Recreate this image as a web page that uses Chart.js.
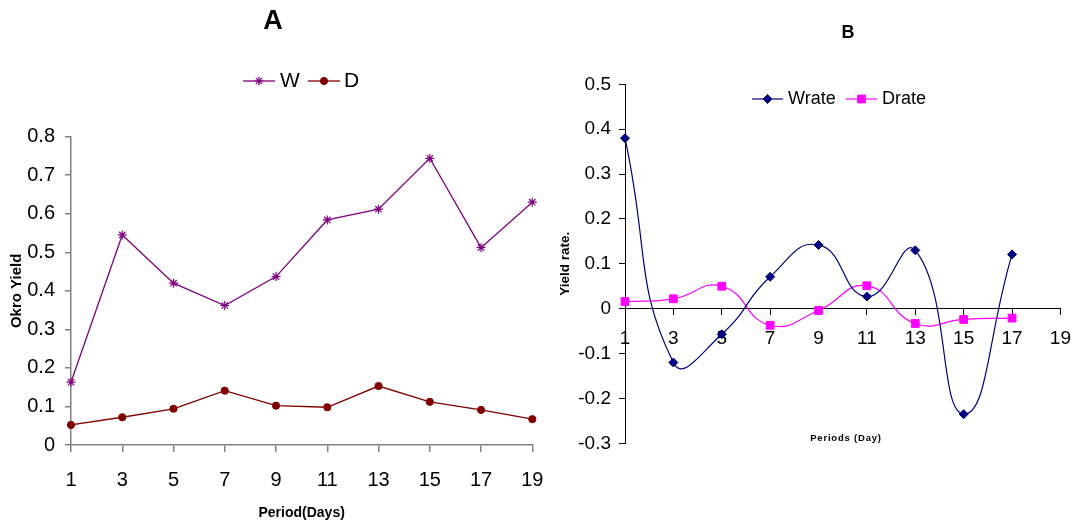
<!DOCTYPE html>
<html><head><meta charset="utf-8">
<script src="https://cdn.jsdelivr.net/npm/chart.js@4.4.1/dist/chart.umd.min.js"></script>
<style>
html,body{margin:0;padding:0;background:#fff;overflow:hidden}
#wrap{position:relative;width:1084px;height:529px;background:#fff}
canvas{position:absolute;left:0;top:0}
</style></head>
<body><div id="wrap"><canvas id="cA" width="1084" height="529"></canvas><canvas id="cB" width="1084" height="529"></canvas></div>
<script>
// ---------- data ----------
const periodsA = ['1','3','5','7','9','11','13','15','17','19'];
const wYield = [0.163,0.545,0.420,0.362,0.437,0.584,0.612,0.744,0.512,0.630];
const dYield = [0.052,0.072,0.094,0.141,0.102,0.098,0.153,0.112,0.091,0.067];
const yTicksA = [0,0.1,0.2,0.3,0.4,0.5,0.6,0.7,0.8];

const periodsB = ['1','3','5','7','9','11','13','15','17','19'];
const wRate = [0.380,-0.120,-0.057,0.071,0.142,0.027,0.130,-0.235,0.121];
const dRate = [0.016,0.022,0.050,-0.037,-0.004,0.051,-0.033,-0.024,-0.021];
const yTicksB = [-0.3,-0.2,-0.1,0,0.1,0.2,0.3,0.4,0.5];

// ---------- styling ----------
const NARROW = "'Liberation Sans Narrow','Arial Narrow','Liberation Sans',Arial,sans-serif";
const SANS = "'Liberation Sans',Arial,sans-serif";
Chart.defaults.font.family = SANS;
const fmt = v => String(Math.round(v * 10) / 10);

const decor = {
  id: 'decor',
  afterDraw(chart, args, o) {
    const ctx = chart.ctx;
    ctx.save();
    ctx.textBaseline = 'middle';
    if (o.title) {
      ctx.fillStyle = '#000';
      ctx.font = o.title.font;
      ctx.textAlign = 'center';
      ctx.fillText(o.title.text, o.title.x, o.title.y);
    }
    if (o.legend) {
      const y = o.legend.y;
      o.legend.items.forEach((it, i) => {
        const ds = chart.data.datasets[i];
        ctx.strokeStyle = ds.borderColor;
        ctx.lineWidth = ds.borderWidth || 1;
        ctx.beginPath(); ctx.moveTo(it.x0, y); ctx.lineTo(it.x1, y); ctx.stroke();
        ctx.fillStyle = ds.pointBackgroundColor;
        ctx.strokeStyle = ds.pointBorderColor;
        ctx.lineWidth = ds.pointBorderWidth || 1;
        Chart.helpers.drawPoint(ctx, {pointStyle: ds.pointStyle, radius: ds.pointRadius, borderWidth: ds.pointBorderWidth || 1, rotation: 0}, (it.x0 + it.x1) / 2, y);
        ctx.fillStyle = '#000';
        ctx.font = o.legend.font;
        ctx.textAlign = 'left';
        ctx.fillText(ds.label, it.tx, y);
      });
    }
    if (o.xTitle) {
      ctx.fillStyle = '#000';
      ctx.font = o.xTitle.font;
      ctx.textAlign = 'center';
      if ('letterSpacing' in ctx) ctx.letterSpacing = o.xTitle.spacing || '0px';
      ctx.fillText(o.xTitle.text, o.xTitle.x, o.xTitle.y);
    }
    ctx.restore();
  }
};

// ---------- Chart A ----------
new Chart(document.getElementById('cA'), {
  type: 'line',
  data: {
    labels: periodsA,
    datasets: [
      {label: 'W', data: wYield, borderColor: '#800080', backgroundColor: '#800080',
       pointStyle: 'star', pointRadius: 4.5, pointBorderColor: '#800080', pointBackgroundColor: '#800080',
       pointBorderWidth: 1.2, borderWidth: 1.3, tension: 0, clip: false},
      {label: 'D', data: dYield, borderColor: '#800000', backgroundColor: '#800000',
       pointStyle: 'circle', pointRadius: 3.6, pointBorderColor: '#800000', pointBackgroundColor: '#800000',
       pointBorderWidth: 1, borderWidth: 1.3, tension: 0, clip: false}
    ]
  },
  options: {
    responsive: false, animation: false, events: [],
    layout: {padding: {top: 136.7, right: 551.7, bottom: 0, left: 0}},
    plugins: {
      legend: {display: false}, title: {display: false}, tooltip: {enabled: false},
      decor: {
        title: {text: 'A', x: 273, y: 22, font: "bold 27px " + NARROW},
        legend: {y: 81, font: "21px " + NARROW, items: [{x0: 243, x1: 275, tx: 280}, {x0: 308, x1: 340, tx: 344}]}
      }
    },
    scales: {
      x: {
        type: 'category', offset: false,
        grid: {display: true, drawOnChartArea: false, drawTicks: true, tickLength: 7, color: '#808080', lineWidth: 1.5},
        border: {display: true, color: '#808080', width: 1.5},
        ticks: {font: {family: NARROW, size: 20}, color: '#000', padding: 16, maxRotation: 0, autoSkip: false},
        title: {display: true, text: 'Period(Days)', color: '#000', font: {family: NARROW, size: 14, weight: 'bold'}, padding: {top: 0, bottom: 7}},
        afterFit(s) { s.height = 84; }
      },
      y: {
        min: 0, max: 0.8,
        afterBuildTicks(s) { s.ticks = yTicksA.map(v => ({value: v})); },
        grid: {display: true, drawOnChartArea: false, drawTicks: true, tickLength: 6, color: '#808080', lineWidth: 1.5},
        border: {display: true, color: '#808080', width: 1.5},
        ticks: {font: {family: NARROW, size: 20}, color: '#000', padding: 10, callback: v => fmt(v)},
        title: {display: true, text: 'Okro Yield', color: '#000', font: {family: SANS, size: 15, weight: 'bold'}, padding: {top: 8, bottom: 0}},
        afterFit(s) { s.width = 71; }
      }
    }
  },
  plugins: [decor]
});

// ---------- Chart B ----------
new Chart(document.getElementById('cB'), {
  type: 'line',
  data: {
    labels: periodsB,
    datasets: [
      {label: 'Wrate', data: wRate, borderColor: '#000080', backgroundColor: '#000080',
       pointStyle: 'rectRot', pointRadius: 4.5, pointBorderColor: '#000080', pointBackgroundColor: '#000080',
       pointBorderWidth: 1, borderWidth: 1.2, tension: 0.5, clip: false},
      {label: 'Drate', data: dRate, borderColor: '#FF00FF', backgroundColor: '#FF00FF',
       pointStyle: 'rect', pointRadius: 5.5, pointBorderColor: '#FF00FF', pointBackgroundColor: '#FF00FF',
       pointBorderWidth: 1, borderWidth: 1.2, tension: 0.5, clip: false}
    ]
  },
  options: {
    responsive: false, animation: false, events: [],
    layout: {padding: {top: 84.3, right: 14, bottom: 85.7, left: 545}},
    plugins: {
      legend: {display: false}, title: {display: false}, tooltip: {enabled: false},
      decor: {
        title: {text: 'B', x: 848, y: 33, font: "bold 18px " + SANS},
        legend: {y: 99, font: "18px " + SANS, items: [{x0: 752, x1: 783, tx: 788}, {x0: 846, x1: 877, tx: 882}]},
        xTitle: {text: 'Periods (Day)', x: 846, y: 438, font: "bold 9.5px " + SANS, spacing: '0.8px'}
      }
    },
    scales: {
      x: {
        type: 'category', offset: false, position: {y: 0},
        grid: {display: true, drawOnChartArea: false, drawTicks: true, tickLength: 6, color: '#000', lineWidth: 1},
        border: {display: true, color: '#000', width: 1},
        ticks: {font: {family: SANS, size: 19}, color: '#000', padding: 13, maxRotation: 0, autoSkip: false}
      },
      y: {
        position: 'left', min: -0.3, max: 0.5,
        afterBuildTicks(s) { s.ticks = yTicksB.map(v => ({value: v})); },
        grid: {display: true, drawOnChartArea: false, drawTicks: true, tickLength: 6, color: '#000', lineWidth: 1},
        border: {display: true, color: '#000', width: 1},
        ticks: {font: {family: SANS, size: 19}, color: '#000', padding: 8, callback: v => fmt(v)},
        title: {display: true, text: 'Yield rate.', color: '#000', font: {family: SANS, size: 13.5, weight: 'bold'}, padding: {top: 12, bottom: 0}},
        afterFit(s) { s.width = 80; }
      }
    }
  },
  plugins: [decor]
});
</script>
</body></html>
